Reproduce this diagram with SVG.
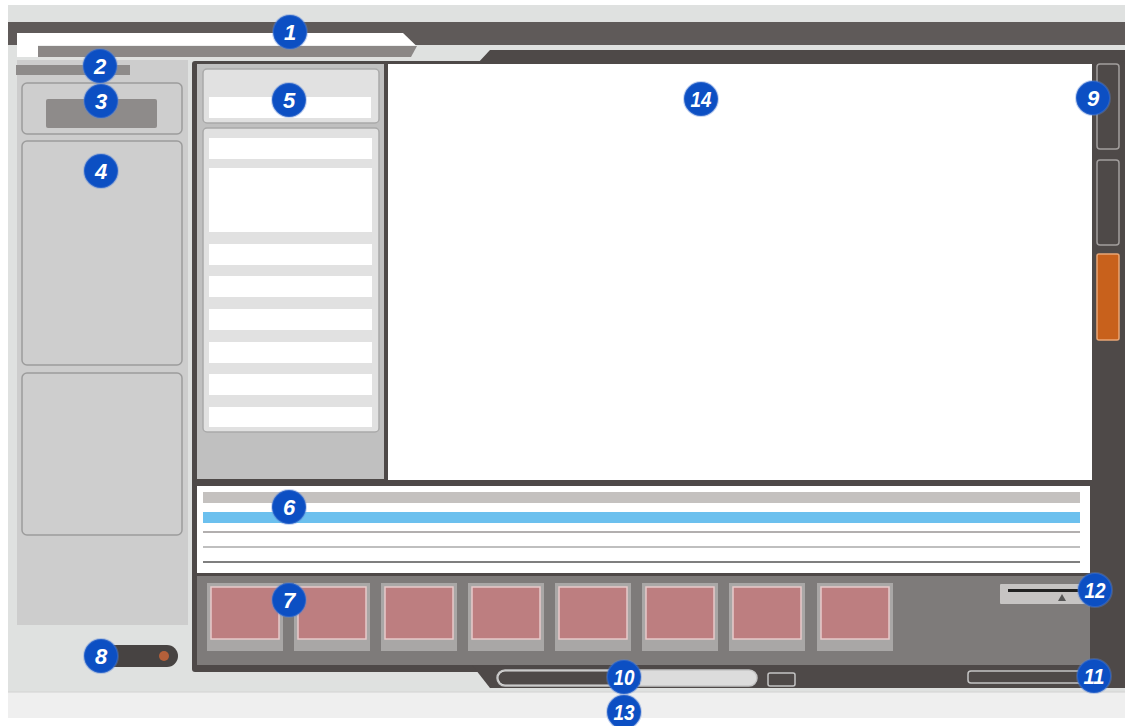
<svg xmlns="http://www.w3.org/2000/svg" width="1125" height="726" viewBox="0 0 1125 726">
<style>
.badge circle{fill:#0c4fc3;stroke:#5d86d6;stroke-opacity:0.35;stroke-width:2}
.badge text{fill:#fff;font-family:"Liberation Sans",Arial,sans-serif;font-weight:bold;font-style:italic;font-size:22px;text-anchor:middle}
.lbox{fill:#cecece;stroke:#9c9c9c;stroke-width:1.5}
.row{fill:#fff}
.thumb{fill:#a9a7a6}
.pink{fill:#bd7e80;stroke:#e7caca;stroke-width:1.5}
.sbtn{fill:#4e4948;stroke:#a29e9d;stroke-width:1.5}
.outline{fill:none;stroke:#c4c4c4;stroke-width:1.5}
</style>
<rect x="0" y="0" width="1125" height="726" fill="#ffffff"/>
<rect x="8" y="5" width="1117" height="687" fill="#dfe1e0"/>
<rect x="8" y="692" width="1117" height="26" fill="#efefef"/>
<line x1="8" y1="692" x2="1125" y2="692" stroke="#d2d2d2" stroke-width="1"/>

<g id="titlebar">
<rect x="8" y="22" width="1117" height="23" fill="#5f5a59"/>
<polygon points="17,33 403,33 416,45.5 17,45.5" fill="#ffffff"/>
<polygon points="38,46 417,46 411,57 38,57" fill="#8b8786"/>
<rect x="17" y="36" width="21" height="21" fill="#ffffff"/>
<polygon points="490,50 1125,50 1125,64 477,64" fill="#4e4948"/>
</g>

<g id="leftpanel">
<rect x="17" y="60" width="171" height="565" fill="#cdcdcd"/>
<rect x="16" y="65" width="114" height="10" fill="#8e8b8a"/>
<rect class="lbox" x="22" y="83" width="160" height="51" rx="5"/>
<rect x="46" y="99" width="111" height="29" rx="2" fill="#8e8b8a"/>
<rect class="lbox" x="22" y="141" width="160" height="224" rx="5"/>
<rect class="lbox" x="22" y="373" width="160" height="162" rx="5"/>
</g>

<g id="frame">
<rect x="192" y="61" width="933" height="611" rx="3" fill="#4e4948"/>
<polygon points="472,665 1125,665 1125,688 490,688" fill="#4e4948"/>
<rect x="197" y="64" width="187" height="415" fill="#c0c0c0"/>
<rect x="388" y="64" width="704" height="416" fill="#ffffff"/>
</g>

<g id="midcolumn">
<rect x="203" y="69" width="176" height="54" rx="4" fill="#e1e1e1" stroke="#a9a9a9" stroke-width="1.5"/>
<rect x="209" y="97" width="162" height="21" fill="#ffffff"/>
<rect x="203" y="128" width="176" height="304" rx="4" fill="#e1e1e1" stroke="#a9a9a9" stroke-width="1.5"/>
<rect class="row" x="209" y="138" width="163" height="21"/>
<rect class="row" x="209" y="168" width="163" height="64"/>
<rect class="row" x="209" y="244" width="163" height="21"/>
<rect class="row" x="209" y="276" width="163" height="21"/>
<rect class="row" x="209" y="309" width="163" height="21"/>
<rect class="row" x="209" y="342" width="163" height="21"/>
<rect class="row" x="209" y="374" width="163" height="21"/>
<rect class="row" x="209" y="407" width="163" height="20"/>
</g>

<g id="sidebar">
<rect class="sbtn" x="1097" y="64" width="22" height="85" rx="3"/>
<rect class="sbtn" x="1097" y="160" width="22" height="85" rx="3"/>
<rect x="1097" y="254" width="22" height="86" rx="2" fill="#c8611c" stroke="#e9a574" stroke-width="1.5"/>
</g>

<g id="timeline">
<rect x="197" y="486" width="893" height="87" fill="#ffffff"/>
<rect x="203" y="492" width="877" height="11" fill="#c4c1bf"/>
<rect x="203" y="512" width="877" height="11" fill="#6cc0ee"/>
<line x1="203" y1="532" x2="1080" y2="532" stroke="#b2afaf" stroke-width="2"/>
<line x1="203" y1="547" x2="1080" y2="547" stroke="#aaaaaa" stroke-width="1.5"/>
<line x1="203" y1="562" x2="1080" y2="562" stroke="#555555" stroke-width="1.5"/>
</g>

<g id="thumbstrip">
<rect x="197" y="576" width="893" height="89" fill="#7e7b7a"/>
<rect class="thumb" x="207" y="583" width="76" height="68"/><rect class="pink" x="211" y="587" width="68" height="52"/>
<rect class="thumb" x="294" y="583" width="76" height="68"/><rect class="pink" x="298" y="587" width="68" height="52"/>
<rect class="thumb" x="381" y="583" width="76" height="68"/><rect class="pink" x="385" y="587" width="68" height="52"/>
<rect class="thumb" x="468" y="583" width="76" height="68"/><rect class="pink" x="472" y="587" width="68" height="52"/>
<rect class="thumb" x="555" y="583" width="76" height="68"/><rect class="pink" x="559" y="587" width="68" height="52"/>
<rect class="thumb" x="642" y="583" width="76" height="68"/><rect class="pink" x="646" y="587" width="68" height="52"/>
<rect class="thumb" x="729" y="583" width="76" height="68"/><rect class="pink" x="733" y="587" width="68" height="52"/>
<rect class="thumb" x="817" y="583" width="76" height="68"/><rect class="pink" x="821" y="587" width="68" height="52"/>
</g>

<g id="zoomslider">
<rect x="1000" y="584" width="85" height="20" rx="1" fill="#c6c4c3"/>
<rect x="1008" y="589" width="74" height="3" fill="#222"/>
<polygon points="1062,594 1058,601 1066,601" fill="#555"/>
</g>

<g id="toggle">
<rect x="100" y="645" width="78" height="22" rx="11" fill="#474342"/>
<circle cx="164" cy="656" r="5" fill="#b5603a"/>
</g>

<g id="scrollbar">
<rect x="497" y="670" width="260" height="16" rx="8" fill="#dcdcdc" stroke="#c4c4c4" stroke-width="1.5"/>
<path d="M505,671.5 H640 V684.5 H505 A6.5,6.5 0 0 1 505,671.5 Z" fill="#4e4948"/>
<rect class="outline" x="768" y="673" width="27" height="13" rx="2"/>
<rect class="outline" x="968" y="671" width="115" height="12" rx="3"/>
</g>

<g id="connectors"></g>

<g id="badge1" class="badge"><circle cx="290" cy="32" r="17"/><text x="290" y="40">1</text></g>
<g id="badge2" class="badge"><circle cx="100" cy="66" r="17"/><text x="100" y="74">2</text></g>
<g id="badge3" class="badge"><circle cx="101" cy="101" r="17"/><text x="101" y="109">3</text></g>
<g id="badge4" class="badge"><circle cx="101" cy="171" r="17"/><text x="101" y="179">4</text></g>
<g id="badge5" class="badge"><circle cx="289" cy="100" r="17"/><text x="289" y="108">5</text></g>
<g id="badge6" class="badge"><circle cx="289" cy="507" r="17"/><text x="289" y="515">6</text></g>
<g id="badge7" class="badge"><circle cx="289" cy="600" r="17"/><text x="289" y="608">7</text></g>
<g id="badge8" class="badge"><circle cx="101" cy="656" r="17"/><text x="101" y="664">8</text></g>
<g id="badge9" class="badge"><circle cx="1093" cy="98" r="17"/><text x="1093" y="106">9</text></g>
<g id="badge10" class="badge"><circle cx="624" cy="677" r="17"/><text x="624" y="685" textLength="21" lengthAdjust="spacingAndGlyphs">10</text></g>
<g id="badge11" class="badge"><circle cx="1094" cy="676" r="17"/><text x="1094" y="684" textLength="21" lengthAdjust="spacingAndGlyphs">11</text></g>
<g id="badge12" class="badge"><circle cx="1095" cy="590" r="17"/><text x="1095" y="598" textLength="21" lengthAdjust="spacingAndGlyphs">12</text></g>
<g id="badge13" class="badge"><circle cx="624" cy="712" r="17"/><text x="624" y="720" textLength="21" lengthAdjust="spacingAndGlyphs">13</text></g>
<g id="badge14" class="badge"><circle cx="701" cy="99" r="17"/><text x="701" y="107" textLength="21" lengthAdjust="spacingAndGlyphs">14</text></g>
</svg>
